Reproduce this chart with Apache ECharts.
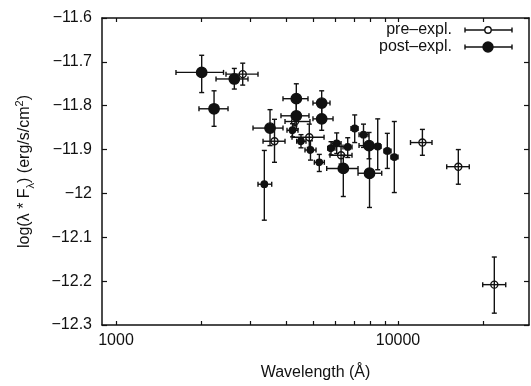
<!DOCTYPE html>
<html>
<head>
<meta charset="utf-8">
<script src="https://cdn.jsdelivr.net/npm/echarts@6/dist/echarts.min.js"></script>
<style>
html, body { margin: 0; padding: 0; background: #fff; }
#main { width: 531px; height: 386px; }
</style>
</head>
<body>
<div id="main"></div>
<script>
// each point: [wavelength, wl low, wl high, log flux, flux top, flux bottom]
var preExpl = [
    [2814, 2455, 3188, -11.728, -11.703, -11.753],
    [3648, 3322, 3975, -11.881, -11.831, -11.929],
    [4313, 3975, 4873, -11.836, -11.826, -11.846],
    [4846, 4209, 5467, -11.872, -11.842, -11.895],
    [6281, 5739, 6869, -11.913, -11.893, -11.933],
    [12204, 11074, 13199, -11.884, -11.854, -11.913],
    [16363, 14884, 17893, -11.939, -11.900, -11.979],
    [21953, 19970, 24099, -12.208, -12.145, -12.273]
];
var postExpl = [
    [2013, 1632, 2406, -11.724, -11.685, -11.770],
    [2628, 2263, 2938, -11.739, -11.715, -11.762],
    [2227, 1969, 2496, -11.807, -11.766, -11.847],
    [3517, 3061, 3910, -11.851, -11.809, -11.891],
    [4359, 3910, 4795, -11.784, -11.750, -11.816],
    [4359, 3846, 4834, -11.823, -11.793, -11.853],
    [5362, 4994, 5739, -11.794, -11.766, -11.820],
    [5362, 4994, 5883, -11.830, -11.802, -11.856],
    [6398, 5587, 7215, -11.943, -11.913, -12.007],
    [7925, 7215, 8755, -11.954, -11.884, -12.032],
    [7894, 7274, 8636, -11.891, -11.861, -11.921]
];
// smaller filled points
var postSmall = [
    [3357, 3188, 3566, -11.979, -11.902, -12.061],
    [4226, 4040, 4419, -11.856, -11.841, -11.871],
    [4529, 4373, 4718, -11.881, -11.866, -11.896],
    [4893, 4679, 5120, -11.901, -11.880, -11.924],
    [5259, 5050, 5480, -11.929, -11.911, -11.950],
    [5787, 5633, 5978, -11.897, -11.882, -11.912],
    [6062, 5834, 6281, -11.886, -11.862, -11.909],
    [6632, 6383, 6869, -11.894, -11.873, -11.918],
    [7022, 6813, 7215, -11.852, -11.821, -11.884],
    [7545, 7274, 7831, -11.866, -11.842, -11.895],
    [8473, 8221, 8703, -11.893, -11.830, -11.946],
    [9165, 8920, 9445, -11.903, -11.863, -11.943],
    [9703, 9445, 10000, -11.917, -11.836, -11.998]
];
var xLabels = [1000, 10000];
var xTicks = [1000, 2000, 3000, 4000, 5000, 6000, 7000, 8000, 9000, 10000, 20000];

var ink = '#111';
var font = 'Liberation Sans';

function errBar(r, filled) {
    return function (params, api) {
        var c = api.coord([api.value(0), api.value(3)]);
        var xl = api.coord([api.value(1), api.value(3)])[0];
        var xh = api.coord([api.value(2), api.value(3)])[0];
        var yt = api.coord([api.value(0), api.value(4)])[1];
        var yb = api.coord([api.value(0), api.value(5)])[1];
        var st = { stroke: ink, lineWidth: 1.4 };
        var k = 2.5;
        var seg = function (x1, y1, x2, y2) {
            return { type: 'line', shape: { x1: x1, y1: y1, x2: x2, y2: y2 }, style: st };
        };
        return {
            type: 'group',
            children: [
                seg(xl, c[1], xh, c[1]),
                seg(c[0], yt, c[0], yb),
                seg(xl, c[1] - k, xl, c[1] + k),
                seg(xh, c[1] - k, xh, c[1] + k),
                seg(c[0] - k, yt, c[0] + k, yt),
                seg(c[0] - k, yb, c[0] + k, yb),
                {
                    type: 'circle',
                    shape: { cx: c[0], cy: c[1], r: r },
                    style: { fill: filled ? ink : 'none', stroke: ink, lineWidth: 1.4 }
                }
            ]
        };
    };
}

function legendRow(y, label, r, filled) {
    return [
        { type: 'text', x: 452, y: y, style: { text: label, font: '16px "' + font + '"', fill: ink, textAlign: 'right', align: 'right', textVerticalAlign: 'middle', verticalAlign: 'middle' } },
        { type: 'line', shape: { x1: 465, y1: y, x2: 512, y2: y }, style: { stroke: ink, lineWidth: 1.4 } },
        { type: 'line', shape: { x1: 465, y1: y - 2.5, x2: 465, y2: y + 2.5 }, style: { stroke: ink, lineWidth: 1.4 } },
        { type: 'line', shape: { x1: 512, y1: y - 2.5, x2: 512, y2: y + 2.5 }, style: { stroke: ink, lineWidth: 1.4 } },
        { type: 'circle', shape: { cx: 488, cy: y, r: r }, style: { fill: filled ? ink : '#fff', stroke: ink, lineWidth: 1.4 } }
    ];
}

var fmtY = function (v) {
    return String(parseFloat(v.toFixed(1))).replace('-', '\u2212');
};

var myChart = echarts.init(document.getElementById('main'));

option = {
    animation: false,
    backgroundColor: '#fff',
    grid: { left: 102, right: 2, top: 18, bottom: 51 },
    xAxis: [
        {
            type: 'log',
            position: 'bottom',
            min: 892,
            max: 29140,
            name: 'Wavelength (\u00c5)',
            nameLocation: 'middle',
            nameGap: 40,
            nameTextStyle: { fontSize: 16, fontFamily: font, color: ink },
            axisLine: { show: true, lineStyle: { color: ink, width: 1.5 } },
            axisTick: { show: true, inside: true, length: 4, customValues: xTicks, lineStyle: { color: ink, width: 1.2 } },
            axisLabel: {
                customValues: xLabels, fontSize: 16, fontFamily: font, color: ink, margin: 8,
                formatter: function (v) { return String(Math.round(v)); }
            },
            splitLine: { show: false }
        },
        {
            type: 'log',
            position: 'top',
            min: 892,
            max: 29140,
            axisLine: { show: true, lineStyle: { color: ink, width: 1.5 } },
            axisTick: { show: true, inside: true, length: 4, customValues: xTicks, lineStyle: { color: ink, width: 1.2 } },
            axisLabel: { show: false },
            splitLine: { show: false }
        }
    ],
    yAxis: [
        {
            type: 'value',
            position: 'left',
            min: -12.3,
            max: -11.6,
            interval: 0.1,
            name: 'log(\u03bb * F{s|\u03bb}) (erg/s/cm{p|2})',
            nameLocation: 'middle',
            nameGap: 66,
            nameTextStyle: {
                fontSize: 16, fontFamily: font, color: ink, lineHeight: 22,
                rich: {
                    s: { fontSize: 11, fontFamily: font, color: ink, verticalAlign: 'bottom' },
                    p: { fontSize: 11, fontFamily: font, color: ink, verticalAlign: 'top' }
                }
            },
            axisLine: { show: true, lineStyle: { color: ink, width: 1.5 } },
            axisTick: { show: true, inside: true, length: 5, lineStyle: { color: ink, width: 1.2 } },
            axisLabel: { fontSize: 16, fontFamily: font, color: ink, margin: 10, formatter: fmtY },
            splitLine: { show: false }
        },
        {
            type: 'value',
            position: 'right',
            min: -12.3,
            max: -11.6,
            interval: 0.1,
            axisLine: { show: true, lineStyle: { color: ink, width: 1.5 } },
            axisTick: { show: true, inside: true, length: 5, lineStyle: { color: ink, width: 1.2 } },
            axisLabel: { show: false },
            splitLine: { show: false }
        }
    ],
    graphic: legendRow(30, 'pre\u2013expl.', 3.2, false).concat(legendRow(47, 'post\u2013expl.', 5, true)),
    series: [
        {
            name: 'pre-expl.',
            type: 'custom',
            renderItem: errBar(3.5, false),
            encode: { x: [0, 1, 2], y: [3, 4, 5] },
            data: preExpl
        },
        {
            name: 'post-expl.',
            type: 'custom',
            renderItem: errBar(5.2, true),
            encode: { x: [0, 1, 2], y: [3, 4, 5] },
            data: postExpl
        },
        {
            name: 'post-expl. (small)',
            type: 'custom',
            renderItem: errBar(3.2, true),
            encode: { x: [0, 1, 2], y: [3, 4, 5] },
            data: postSmall
        }
    ]
};
myChart.setOption(option);
</script>
</body>
</html>
